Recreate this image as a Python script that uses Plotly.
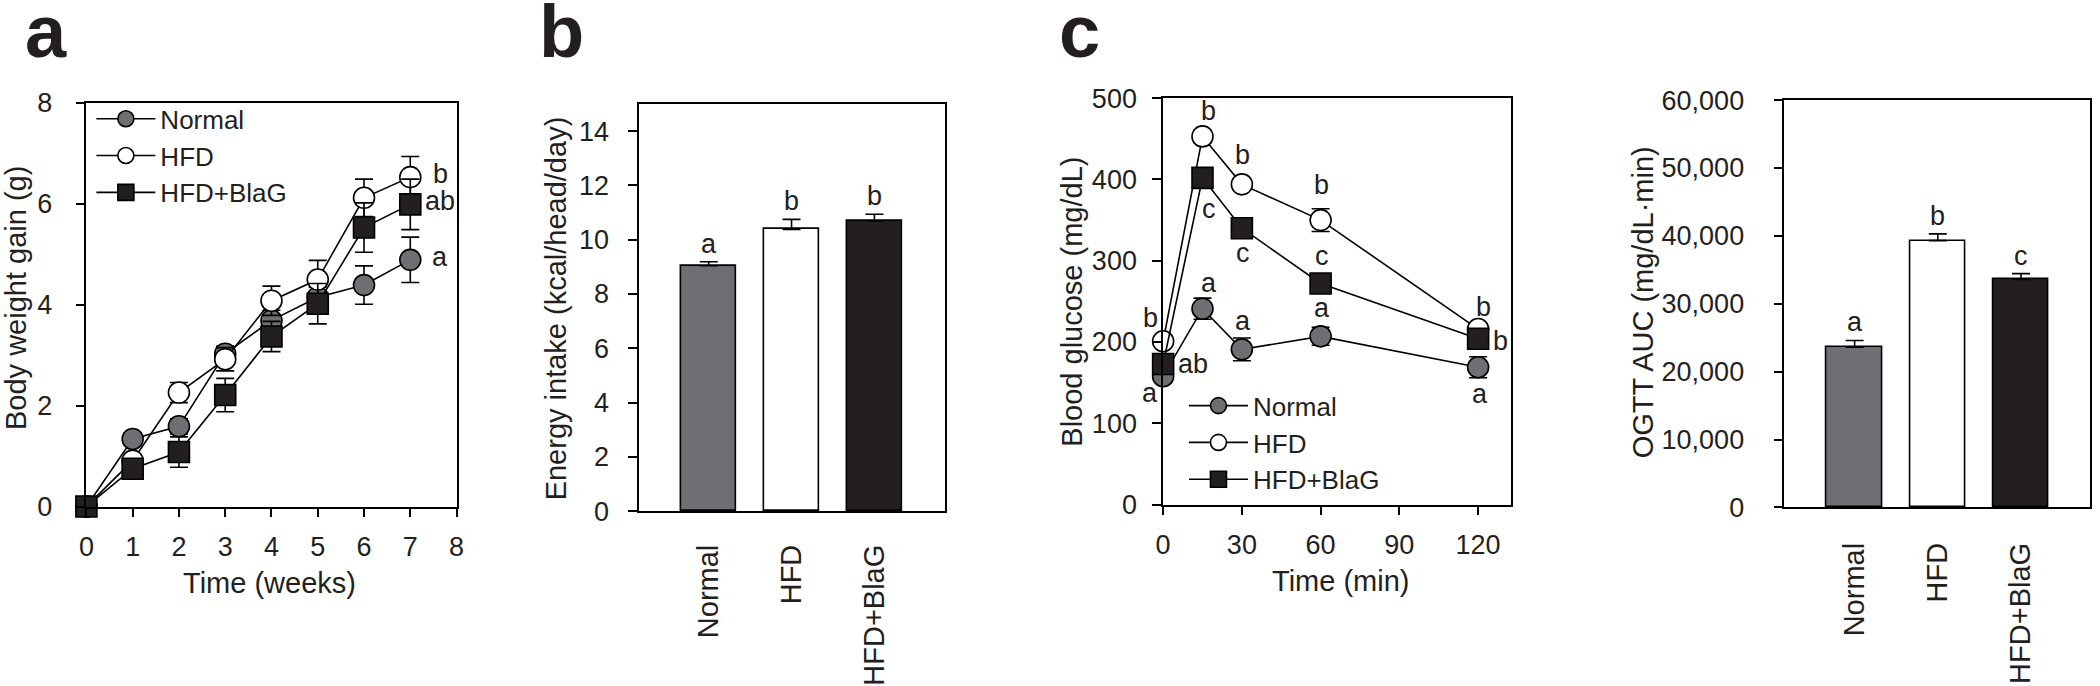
import plotly.graph_objects as go

# ---------------- data ----------------
groups = ["Normal", "HFD", "HFD+BlaG"]

weeks = [0, 1, 2, 3, 4, 5, 6, 7]
bw_normal = [0, 1.34, 1.59, 3.03, 3.69, 4.15, 4.39, 4.89]
bw_normal_err = [0, 0.12, 0.15, 0.15, 0.20, 0.20, 0.38, 0.45]
bw_hfd = [0, 0.91, 2.26, 2.92, 4.08, 4.50, 6.12, 6.53]
bw_hfd_err = [0, 0.10, 0.20, 0.23, 0.29, 0.38, 0.37, 0.41]
bw_blag = [0, 0.75, 1.08, 2.21, 3.37, 4.02, 5.53, 5.99]
bw_blag_err = [0, 0.10, 0.30, 0.33, 0.30, 0.40, 0.49, 0.50]
bw_letters = ["a", "b", "ab"]  # Normal, HFD, HFD+BlaG at week 7

energy = [9.04, 10.38, 10.69]
energy_err = [0.15, 0.37, 0.25]
energy_letters = ["a", "b", "b"]

minutes = [0, 15, 30, 60, 120]
glu_normal = [158, 241, 191, 207, 169]
glu_normal_err = [8, 13, 14, 11, 13]
glu_hfd = [201, 453, 394, 350, 216]
glu_hfd_err = [6, 8, 7, 14, 6]
glu_blag = [173, 402, 340, 272, 204]
glu_blag_err = [8, 9, 7, 6, 8]
glu_normal_letters = ["a", "a", "a", "a", "a"]
glu_hfd_letters = ["b", "b", "b", "b", "b"]
glu_blag_letters = ["ab", "c", "c", "c", "b"]

auc = [23600, 39300, 33600]
auc_err = [1000, 1000, 850]
auc_letters = ["a", "b", "c"]

# ---------------- style ----------------
W, H = 2100, 686
FONT = "Liberation Sans, Arial, sans-serif"
INK = "#231f20"
GRAY = "#6e6f72"
fills = [GRAY, "white", INK]
symbols = ["circle", "circle", "square"]
LW = 1.6


def px_x(p):
    return p / W


def px_y(p):
    return 1 - p / H


fig = go.Figure()

# ---- panel a : body weight gain ----
for name, ys, es, fc, sym in zip(groups, [bw_normal, bw_hfd, bw_blag],
                                 [bw_normal_err, bw_hfd_err, bw_blag_err], fills, symbols):
    fig.add_trace(go.Scatter(
        x=weeks, y=ys, name=name, mode="lines+markers", xaxis="x", yaxis="y",
        legend="legend", cliponaxis=False,
        line=dict(color="black", width=LW),
        marker=dict(symbol=sym, size=21, color=fc, line=dict(color="black", width=LW)),
        error_y=dict(type="data", array=es, color="black", thickness=LW, width=9),
    ))

# ---- panel b : energy intake ----
fig.add_trace(go.Bar(
    x=groups, y=energy, xaxis="x2", yaxis="y2", showlegend=False, width=0.67,
    marker=dict(color=fills, line=dict(color="black", width=LW)),
    error_y=dict(type="data", symmetric=False, array=energy_err, arrayminus=[0, 0, 0],
                 color="black", thickness=LW, width=9),
))

# ---- panel c : OGTT ----
for name, ys, es, fc, sym in zip(groups, [glu_normal, glu_hfd, glu_blag],
                                 [glu_normal_err, glu_hfd_err, glu_blag_err], fills, symbols):
    fig.add_trace(go.Scatter(
        x=minutes, y=ys, name=name, mode="lines+markers", xaxis="x3", yaxis="y3",
        legend="legend2", cliponaxis=False,
        line=dict(color="black", width=LW),
        marker=dict(symbol=sym, size=21, color=fc, line=dict(color="black", width=LW)),
        error_y=dict(type="data", array=es, color="black", thickness=LW, width=9),
    ))

# ---- panel d : AUC ----
fig.add_trace(go.Bar(
    x=groups, y=auc, xaxis="x4", yaxis="y4", showlegend=False, width=0.67,
    marker=dict(color=fills, line=dict(color="black", width=LW)),
    error_y=dict(type="data", symmetric=False, array=auc_err, arrayminus=[0, 0, 0],
                 color="black", thickness=LW, width=9),
))

tickfont = dict(family=FONT, size=27, color=INK)
catfont = dict(family=FONT, size=29, color=INK)


def num_axis(standoff, **kw):
    d = dict(showline=True, linecolor="black", linewidth=LW, mirror=True,
             ticks="outside", ticklen=9, tickwidth=LW, tickcolor="black",
             showgrid=False, zeroline=False, tickfont=tickfont, ticklabelstandoff=standoff)
    d.update(kw)
    return d


def cat_axis(standoff, **kw):
    d = dict(showline=True, linecolor="black", linewidth=LW, mirror=True,
             ticks="", showgrid=False, zeroline=False, tickfont=catfont,
             tickangle=-90, ticklabelstandoff=standoff)
    d.update(kw)
    return d


fig.update_layout(
    width=W, height=H, autosize=False,
    margin=dict(l=0, r=0, t=0, b=0),
    paper_bgcolor="white", plot_bgcolor="white",
    font=dict(family=FONT, size=27, color=INK),
    xaxis=num_axis(6, domain=[px_x(79), px_x(452)], range=[0, 8], tickvals=list(range(9)),
                   anchor="y"),
    yaxis=num_axis(18, domain=[px_y(514), px_y(92)], range=[0, 8], tickvals=[0, 2, 4, 6, 8],
                   anchor="x"),
    xaxis2=cat_axis(20, domain=[px_x(636), px_x(944)], range=[-0.84, 2.85], anchor="y2"),
    yaxis2=num_axis(14, domain=[px_y(519), px_y(93)], range=[0, 15],
                    tickvals=list(range(0, 15, 2)), anchor="x2"),
    xaxis3=num_axis(6, domain=[px_x(1164), px_x(1515)], range=[0, 132.7],
                    tickvals=[0, 30, 60, 90, 120], anchor="y3"),
    yaxis3=num_axis(10, domain=[px_y(512), px_y(87)], range=[0, 500],
                    tickvals=list(range(0, 501, 100)), anchor="x3"),
    xaxis4=cat_axis(22, domain=[px_x(1790), px_x(2098)], range=[-0.845, 2.83], anchor="y4"),
    yaxis4=num_axis(24, domain=[px_y(515), px_y(89)], range=[0, 60000],
                    tickvals=list(range(0, 60001, 10000)), tickformat=",d", anchor="x4"),
    legend=dict(x=px_x(84), y=px_y(84), xanchor="left", yanchor="top",
                bgcolor="rgba(0,0,0,0)", font=dict(family=FONT, size=26, color=INK),
                tracegroupgap=0, itemwidth=59),
    legend2=dict(x=px_x(1185), y=px_y(384), xanchor="left", yanchor="top",
                 bgcolor="rgba(0,0,0,0)", font=dict(family=FONT, size=26, color=INK),
                 tracegroupgap=0, itemwidth=59),
    bargap=0,
)

ann = []
# panel letters
for lab, xp in [("a", 15), ("b", 533), ("c", 1057)]:
    ann.append(dict(text=f"<b>{lab}</b>", x=px_x(xp), y=px_y(63), xref="paper", yref="paper",
                    xanchor="left", yanchor="bottom", showarrow=False,
                    font=dict(family=FONT, size=74, color=INK)))

# axis titles
titles = [
    ("Body weight gain (g)", 8, 296, -90),
    ("Time (weeks)", 264, 594, 0),
    ("Energy intake (kcal/head/day)", 552, 307, -90),
    ("Blood glucose (mg/dL)", 1072, 300, -90),
    ("Time (min)", 1343, 592, 0),
    ("OGTT AUC (mg/dL·min)", 1647, 300, -90),
]
for t, xp, yp, ang in titles:
    ann.append(dict(text=t, x=px_x(xp), y=px_y(yp), xref="paper", yref="paper",
                    xanchor="center", yanchor="middle", textangle=ang, showarrow=False,
                    font=dict(family=FONT, size=29, color=INK)))

LET = dict(family=FONT, size=27, color=INK)
# panel a letters (right of the week-7 points)
for lab, ys in zip(bw_letters, [bw_normal, bw_hfd, bw_blag]):
    ann.append(dict(text=lab, x=weeks[-1], y=ys[-1], xref="x", yref="y", xanchor="center",
                    yanchor="middle", xshift=30, yshift=3, showarrow=False, font=LET))

# bar letters
for xr, yr, vals, errs, labs in [("x2", "y2", energy, energy_err, energy_letters),
                                  ("x4", "y4", auc, auc_err, auc_letters)]:
    for g, v, e, lab in zip(groups, vals, errs, labs):
        ann.append(dict(text=lab, x=g, y=v + e, xref=xr, yref=yr, xanchor="center",
                        yanchor="bottom", yshift=1, showarrow=False, font=LET))

# panel c letters: (xshift, yshift) offsets from each point
normal_off = [(-13, -17), (6, 26), (1, 28), (1, 28), (2, -27)]
hfd_off = [(-13, 23), (6, 25), (1, 29), (1, 35), (5, 22)]
blag_off = [(30, 0), (6, -31), (1, -25), (1, 28), (22, -2)]
for ys, labs, offs in [(glu_normal, glu_normal_letters, normal_off),
                       (glu_hfd, glu_hfd_letters, hfd_off),
                       (glu_blag, glu_blag_letters, blag_off)]:
    for t, v, lab, (dx, dy) in zip(minutes, ys, labs, offs):
        ann.append(dict(text=lab, x=t, y=v, xref="x3", yref="y3", xanchor="center",
                        yanchor="middle", xshift=dx, yshift=dy, showarrow=False, font=LET))

fig.update_layout(annotations=ann)
fig.write_html("out.html")
